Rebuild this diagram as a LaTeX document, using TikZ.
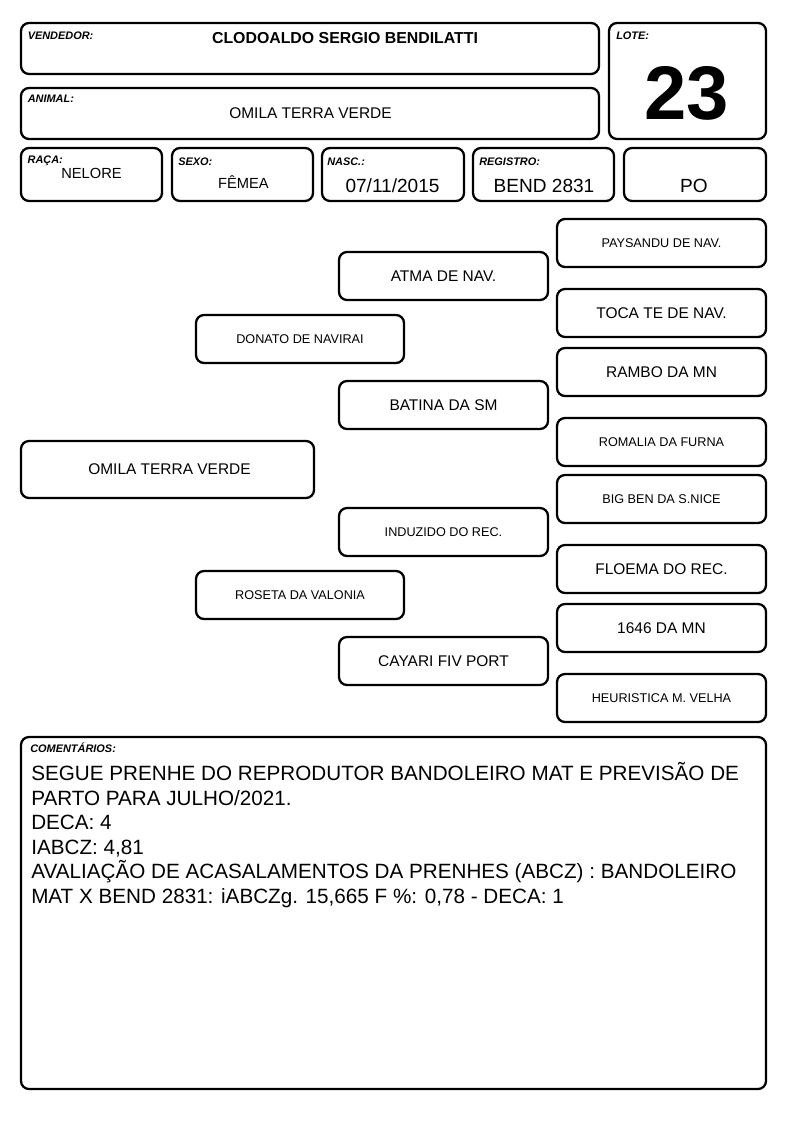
\documentclass[tikz,border=0pt]{standalone}
\usepackage{fontspec}
\setmainfont{Liberation Sans}
\usetikzlibrary{fit}
\tikzset{
  box/.style={draw, line width=1.7pt, rounded corners=6pt, inner sep=0pt},
  lbl/.style={anchor=base west, inner sep=0pt, font=\fontsize{8.2}{9}\selectfont\bfseries\itshape},
  val/.style={anchor=base, inner sep=0pt},
  pedsm/.style={inner sep=0pt, font=\fontsize{9.5}{11}\selectfont},
  pedlg/.style={inner sep=0pt, font=\fontsize{11.6}{13}\selectfont},
  cmtxt/.style={anchor=base west, inner sep=0pt, font=\fontsize{15.5}{18}\selectfont},
}
\begin{document}
\begin{tikzpicture}[x=0.75pt,y=-0.75pt]
\useasboundingbox (0,0) rectangle (794,1123);
% header boxes
\node[box, fit={(21,23)(599,74)}] (vend) {};
\node[box, fit={(609,23)(766,139)}] (lote) {};
\node[box, fit={(21,88)(599,139)}] (anim) {};
\node[box, fit={(21,148)(162,201)}] (raca) {};
\node[box, fit={(172,148)(313,201)}] (sexo) {};
\node[box, fit={(322,148)(464,201)}] (nasc) {};
\node[box, fit={(473,148)(614,201)}] (reg) {};
\node[box, fit={(624,148)(766,201)}] (po) {};
% labels
\node[lbl] (lvend) at (27.5,39.3) {VENDEDOR:};
\node[lbl] (lanim) at (27.5,103) {ANIMAL:};
\node[lbl] (llote) at (616,39.3) {LOTE:};
\node[lbl] (lraca) at (27.4,163.5) {RAÇA:};
\node[lbl] (lsexo) at (178,165.5) {SEXO:};
\node[lbl] (lnasc) at (327,165.5) {NASC.:};
\node[lbl] (lreg) at (479,165.5) {REGISTRO:};
% values
\node[val, font=\fontsize{11.9}{13}\selectfont\bfseries] (tvend) at (345,43.3) {CLODOALDO SERGIO BENDILATTI};
\node[val, font=\fontsize{57}{60}\selectfont\bfseries] (tlote) at (686.5,119.3) {23};
\node[val, font=\fontsize{11.6}{13}\selectfont] (tanim) at (310.5,119) {OMILA TERRA VERDE};
\node[val, font=\fontsize{11}{13}\selectfont] (traca) at (91.5,178.3) {NELORE};
\node[val, font=\fontsize{11}{13}\selectfont] (tsexo) at (243.5,189) {FÊMEA};
\node[val, font=\fontsize{14.3}{16}\selectfont] (tnasc) at (392.5,192.3) {07/11/2015};
\node[val, font=\fontsize{14.3}{16}\selectfont] (treg) at (544,192.3) {BEND 2831};
\node[val, font=\fontsize{14.3}{16}\selectfont] (tpo) at (694,192.3) {PO};
% pedigree boxes
\node[box, fit={(21,441)(314,498)}] (animal) {};
\node[box, fit={(196,315)(404,363)}] (pai) {};
\node[box, fit={(196,571)(404,619)}] (mae) {};
\node[box, fit={(339,252)(548,300)}] (avop) {};
\node[box, fit={(339,381)(548,429)}] (avap) {};
\node[box, fit={(339,508)(548,556)}] (avom) {};
\node[box, fit={(339,637)(548,685)}] (avam) {};
\node[box, fit={(557,219)(766,267)}] (b1) {};
\node[box, fit={(557,289)(766,337)}] (b2) {};
\node[box, fit={(557,348)(766,396)}] (b3) {};
\node[box, fit={(557,418)(766,466)}] (b4) {};
\node[box, fit={(557,475)(766,523)}] (b5) {};
\node[box, fit={(557,545)(766,593)}] (b6) {};
\node[box, fit={(557,604)(766,652)}] (b7) {};
\node[box, fit={(557,674)(766,722)}] (b8) {};
% pedigree texts
\node[pedlg] (tanimal) at (169.5,469.5) {OMILA TERRA VERDE};
\node[pedsm] (tpai) at (pai.center) {DONATO DE NAVIRAI};
\node[pedsm] (tmae) at (mae.center) {ROSETA DA VALONIA};
\node[pedlg] (tavop) at (avop.center) {ATMA DE NAV.};
\node[pedlg] (tavap) at (avap.center) {BATINA DA SM};
\node[pedsm] (tavom) at (avom.center) {INDUZIDO DO REC.};
\node[pedlg] (tavam) at (avam.center) {CAYARI FIV PORT};
\node[pedsm] (tb1) at (b1.center) {PAYSANDU DE NAV.};
\node[pedlg] (tb2) at (b2.center) {TOCA TE DE NAV.};
\node[pedlg] (tb3) at (b3.center) {RAMBO DA MN};
\node[pedsm] (tb4) at (b4.center) {ROMALIA DA FURNA};
\node[pedsm] (tb5) at (b5.center) {BIG BEN DA S.NICE};
\node[pedlg] (tb6) at (b6.center) {FLOEMA DO REC.};
\node[pedlg] (tb7) at (b7.center) {1646 DA MN};
\node[pedsm] (tb8) at (b8.center) {HEURISTICA M. VELHA};
% comments
\node[box, fit={(21,737)(766,1089)}] (com) {};
\node[lbl] (lcom) at (30,752.7) {COMENTÁRIOS:};
\node[cmtxt] (c1) at (31,780.7) {SEGUE PRENHE DO REPRODUTOR BANDOLEIRO MAT E PREVISÃO DE};
\node[cmtxt] (c2) at (31,805.2) {PARTO PARA JULHO/2021.};
\node[cmtxt] (c3) at (31,829.7) {DECA: 4};
\node[cmtxt] (c4) at (31,854.2) {IABCZ: 4,81};
\node[cmtxt] (c5) at (31,878.7) {AVALIAÇÃO DE ACASALAMENTOS DA PRENHES (ABCZ) : BANDOLEIRO};
\node[cmtxt] (c6) at (31,903.2) {MAT X BEND 2831: iABCZg. 15,665 F \%: 0,78 - DECA: 1};
\end{tikzpicture}
\end{document}
